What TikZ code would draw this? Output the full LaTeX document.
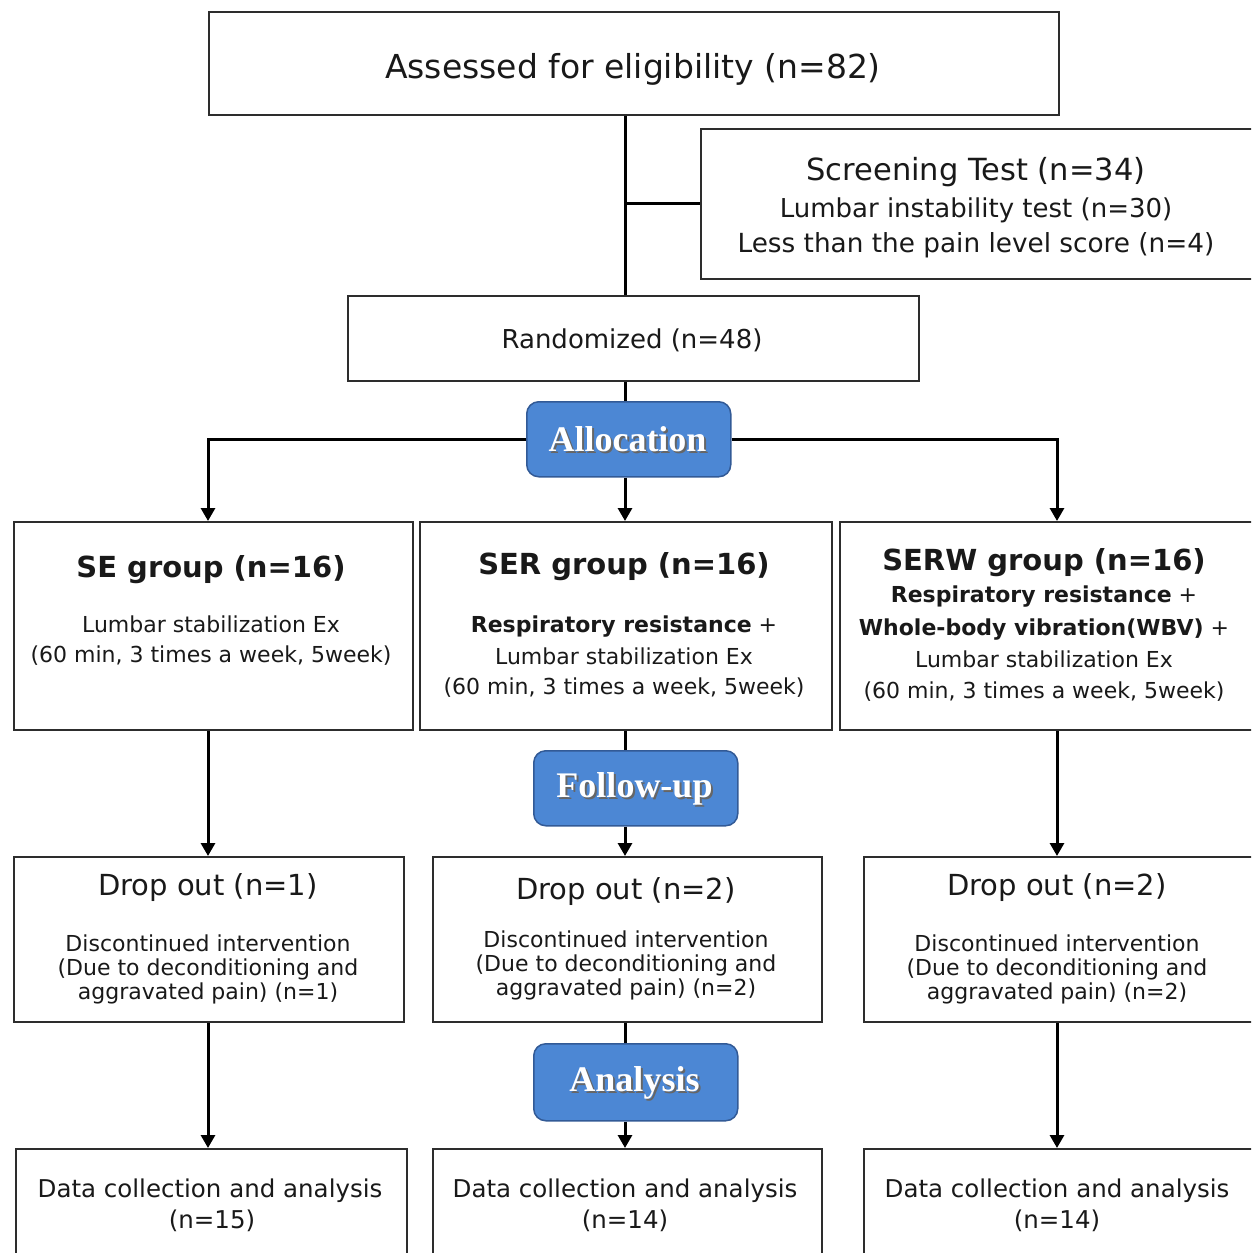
\documentclass[tikz,border=0pt]{standalone}
\usepackage{fontspec}
\setmainfont{DejaVu Sans}
\newfontfamily\phasefont{Liberation Serif}
\usetikzlibrary{arrows.meta}
\definecolor{bluefill}{RGB}{76,135,212}
\definecolor{blueborder}{RGB}{50,90,150}
\definecolor{boxline}{RGB}{45,45,45}
\definecolor{txtcol}{RGB}{25,25,25}
\newcommand{\fsz}[1]{\fontsize{#1}{#1}\selectfont}
\begin{document}
\begin{tikzpicture}[x=1pt,y=-1pt,
 box/.style={draw=boxline, line width=1.8pt, fill=white, inner sep=0pt, anchor=north west},
 phase/.style={draw=blueborder, fill=bluefill, line width=1.5pt, rounded corners=12pt, inner sep=0pt, anchor=north west},
 conn/.style={line width=3pt, draw=black},
 arr/.style={conn, -{Triangle[width=14pt,length=13pt]}},
 tx/.style={anchor=base, inner sep=0pt, text=txtcol},
 ph/.style={anchor=center, inner sep=0pt, text=white, font=\phasefont\bfseries\fsz{36}},
 phs/.style={ph, text=black!60},
]
\useasboundingbox (0,0) rectangle (1251,1253);
\clip (0,0) rectangle (1251,1253);

\coordinate (lx) at (208,0);
\coordinate (cx) at (625,0);
\coordinate (rx) at (1057,0);

% boxes
\node[box, minimum width=850pt, minimum height=103pt] (top) at (208,11) {};
\node[box, minimum width=580pt, minimum height=150pt] (screen) at (700,128) {};
\node[box, minimum width=571pt, minimum height=85pt] (rand) at (347,295) {};
\node[phase, minimum width=204pt, minimum height=75pt] (alloc) at (526,401) {};

\node[box, minimum width=399pt, minimum height=208pt] (se) at (13,521) {};
\node[box, minimum width=412pt, minimum height=208pt] (ser) at (419,521) {};
\node[box, minimum width=440pt, minimum height=208pt] (serw) at (839,521) {};

\node[phase, minimum width=204pt, minimum height=75pt] (follow) at (533,750) {};

\node[box, minimum width=390pt, minimum height=165pt] (dse) at (13,856) {};
\node[box, minimum width=389pt, minimum height=165pt] (dser) at (432,856) {};
\node[box, minimum width=420pt, minimum height=165pt] (dserw) at (863,856) {};

\node[phase, minimum width=204pt, minimum height=77pt] (analysis) at (533,1043) {};

\node[box, minimum width=391pt, minimum height=130pt] (ase) at (15,1148) {};
\node[box, minimum width=389pt, minimum height=130pt] (aser) at (432,1148) {};
\node[box, minimum width=420pt, minimum height=130pt] (aserw) at (863,1148) {};

% connectors
\draw[conn] (top.south -| cx) -- (rand.north -| cx);
\draw[conn] (screen.west -| cx) -- (screen.west);
\draw[conn] (rand.south -| cx) -- (alloc.north -| cx);
\draw[arr] (alloc.west) -| (se.north -| lx);
\draw[arr] (alloc.east) -| (serw.north -| rx);
\draw[arr] (alloc.south -| cx) -- (ser.north -| cx);
\draw[arr] (se.south -| lx) -- (dse.north -| lx);
\draw[conn] (ser.south -| cx) -- (follow.north -| cx);
\draw[arr] (follow.south -| cx) -- (dser.north -| cx);
\draw[arr] (serw.south -| rx) -- (dserw.north -| rx);
\draw[arr] (dse.south -| lx) -- (ase.north -| lx);
\draw[conn] (dser.south -| cx) -- (analysis.north -| cx);
\draw[arr] (analysis.south -| cx) -- (aser.north -| cx);
\draw[arr] (dserw.south -| rx) -- (aserw.north -| rx);

% texts
\node[tx, font=\fsz{33}] (t1) at (633,78) {Assessed for eligibility (n=82)};
\node[tx, font=\fsz{30.5}] (t2) at (976,180) {Screening Test (n=34)};
\node[tx, font=\fsz{26}] (t3) at (976,217) {Lumbar instability test (n=30)};
\node[tx, font=\fsz{26.3}] (t4) at (976,252) {Less than the pain level score (n=4)};
\node[tx, font=\fsz{26}] (t5) at (632,348) {Randomized (n=48)};

\node[phs] (p1s) at (629.5,441.5) {Allocation};
\node[ph] (p1) at (627.5,439.5) {Allocation};
\node[phs] (p2s) at (636.5,790.5) {Follow-up};
\node[ph] (p2) at (634.5,788.5) {Follow-up};
\node[phs] (p3s) at (636.5,1084.5) {Analysis};
\node[ph] (p3) at (634.5,1082.5) {Analysis};

\node[tx, font=\bfseries\fsz{29}] (s1) at (211,577) {SE group (n=16)};
\node[tx, font=\fsz{22}] (s2) at (211,632) {Lumbar stabilization Ex};
\node[tx, font=\fsz{22}] (s3) at (211,662) {(60 min, 3 times a week, 5week)};

\node[tx, font=\bfseries\fsz{29}] (r1) at (624,574) {SER group (n=16)};
\node[tx, font=\fsz{22}] (r2) at (624,632) {\textbf{Respiratory resistance} +};
\node[tx, font=\fsz{22}] (r3) at (624,664) {Lumbar stabilization Ex};
\node[tx, font=\fsz{22}] (r4) at (624,694) {(60 min, 3 times a week, 5week)};

\node[tx, font=\bfseries\fsz{29}] (w1) at (1044,570) {SERW group (n=16)};
\node[tx, font=\fsz{22}] (w2) at (1044,602) {\textbf{Respiratory resistance} +};
\node[tx, font=\fsz{22}] (w3) at (1044,635) {\textbf{Whole-body vibration(WBV)} +};
\node[tx, font=\fsz{22}] (w4) at (1044,667) {Lumbar stabilization Ex};
\node[tx, font=\fsz{22}] (w5) at (1044,698) {(60 min, 3 times a week, 5week)};

\node[tx, font=\fsz{29}] (d1) at (208,895) {Drop out (n=1)};
\node[tx, font=\fsz{22}] (d2) at (208,951) {Discontinued intervention};
\node[tx, font=\fsz{22}] (d3) at (208,975) {(Due to deconditioning and};
\node[tx, font=\fsz{22}] (d4) at (208,999) {aggravated pain) (n=1)};

\node[tx, font=\fsz{29}] (e1) at (626,899) {Drop out (n=2)};
\node[tx, font=\fsz{22}] (e2) at (626,947) {Discontinued intervention};
\node[tx, font=\fsz{22}] (e3) at (626,971) {(Due to deconditioning and};
\node[tx, font=\fsz{22}] (e4) at (626,995) {aggravated pain) (n=2)};

\node[tx, font=\fsz{29}] (f1) at (1057,895) {Drop out (n=2)};
\node[tx, font=\fsz{22}] (f2) at (1057,951) {Discontinued intervention};
\node[tx, font=\fsz{22}] (f3) at (1057,975) {(Due to deconditioning and};
\node[tx, font=\fsz{22}] (f4) at (1057,999) {aggravated pain) (n=2)};

\node[tx, font=\fsz{24.5}] (g1) at (210,1197) {Data collection and analysis};
\node[tx, font=\fsz{24.5}] (g2) at (212,1228) {(n=15)};
\node[tx, font=\fsz{24.5}] (h1) at (625,1197) {Data collection and analysis};
\node[tx, font=\fsz{24.5}] (h2) at (625,1228) {(n=14)};
\node[tx, font=\fsz{24.5}] (i1) at (1057,1197) {Data collection and analysis};
\node[tx, font=\fsz{24.5}] (i2) at (1057,1228) {(n=14)};
\end{tikzpicture}
\end{document}
